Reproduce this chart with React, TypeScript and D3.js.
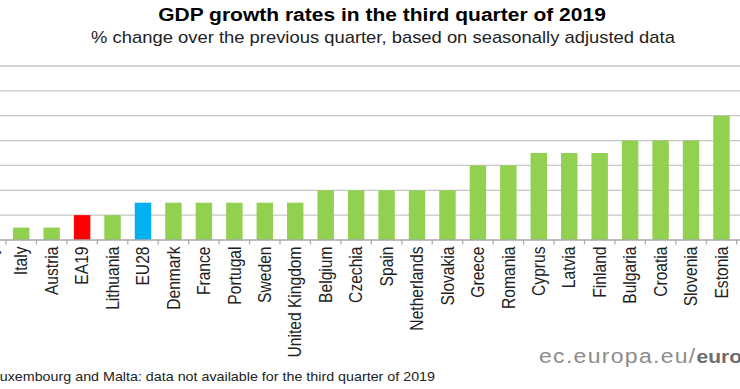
import React from "react";
import * as d3 from "d3";

const categories = [
  "Germany", "Italy", "Austria", "EA19", "Lithuania", "EU28", "Denmark", "France",
  "Portugal", "Sweden", "United Kingdom", "Belgium", "Czechia", "Spain", "Netherlands",
  "Slovakia", "Greece", "Romania", "Cyprus", "Latvia", "Finland", "Bulgaria", "Croatia",
  "Slovenia", "Estonia",
];
const values = [
  0.1, 0.1, 0.1, 0.2, 0.2, 0.3, 0.3, 0.3,
  0.3, 0.3, 0.3, 0.4, 0.4, 0.4, 0.4,
  0.4, 0.6, 0.6, 0.7, 0.7, 0.7, 0.8, 0.8,
  0.8, 1.0,
];
const yTicks = [0, 0.2, 0.4, 0.6, 0.8, 1.0, 1.2, 1.4];

const title = "GDP growth rates in the third quarter of 2019";
const subtitle = "% change over the previous quarter, based on seasonally adjusted data";
const footnote = "Luxembourg and Malta: data not available for the third quarter of 2019";
const sourceA = "ec.europa.eu/";
const sourceB = "eurostat";

const W = 740;
const H = 389;
const SY = 0.877; // vertical squeeze of the reference image

function colorFor(c: string) {
  if (c === "EA19") return "#ff0000";
  if (c === "EU28") return "#00b0f0";
  return "#92d050";
}

export default function App() {
  const x = d3.scaleBand<string>().domain(categories).range([-24.45, 736.7]).padding(0);
  const y = d3.scaleLinear().domain([0, 1.4]).range([240, 66]);
  const bw = x.bandwidth();
  const barW = bw * 0.54;
  const boundaries = categories.map((c) => x(c) as number).concat([x.range()[1]]);

  return (
    <svg
      width={W}
      height={H}
      style={{ position: "absolute", left: 0, top: 0, background: "#fff" }}
      fontFamily="Arial, 'Liberation Sans', Helvetica, sans-serif"
    >
      <rect x={0} y={0} width={W} height={H} fill="#fff" />
      <text
        transform={`translate(382,20.7) scale(1,${SY})`}
        textAnchor="middle"
        fontSize={21}
        fontWeight="bold"
        fill="#000"
      >
        {title}
      </text>
      <text
        transform={`translate(383,43) scale(1,${SY})`}
        textAnchor="middle"
        fontSize={18.4}
        fill="#222"
      >
        {subtitle}
      </text>

      {yTicks.slice(1).map((t) => (
        <line key={t} x1={0} x2={W} y1={y(t)} y2={y(t)} stroke="#c6c6c6" strokeWidth={1.3} />
      ))}

      {categories.map((c, i) => (
        <rect
          key={c}
          x={(x(c) as number) + (bw - barW) / 2}
          y={y(values[i])}
          width={barW}
          height={y(0) - y(values[i])}
          fill={colorFor(c)}
        />
      ))}

      <line x1={0} x2={W} y1={y(0)} y2={y(0)} stroke="#a8a8a8" strokeWidth={1.3} />
      {boundaries.map((b, i) => (
        <line key={i} x1={b} x2={b} y1={y(0)} y2={y(0) + 4.5} stroke="#a8a8a8" strokeWidth={1.2} />
      ))}

      {categories.map((c) => (
        <text
          key={c}
          transform={`translate(${(x(c) as number) + bw / 2},246.5) scale(1,${SY}) rotate(-90)`}
          textAnchor="end"
          dy="0.35em"
          fontSize={17.8}
          fill="#222"
        >
          {c}
        </text>
      ))}

      <text
        transform={`translate(539,363) scale(1,${SY})`}
        fontSize={23}
        letterSpacing={1.3}
        fill="#8c8c8c"
      >
        {sourceA}
        <tspan fontWeight="bold" fontSize={21} letterSpacing={0} fill="#6e6e6e">{sourceB}</tspan>
      </text>

      <text
        transform={`translate(435,381) scale(1,${SY})`}
        textAnchor="end"
        fontSize={14.3}
        fill="#222"
      >
        {footnote}
      </text>
    </svg>
  );
}
